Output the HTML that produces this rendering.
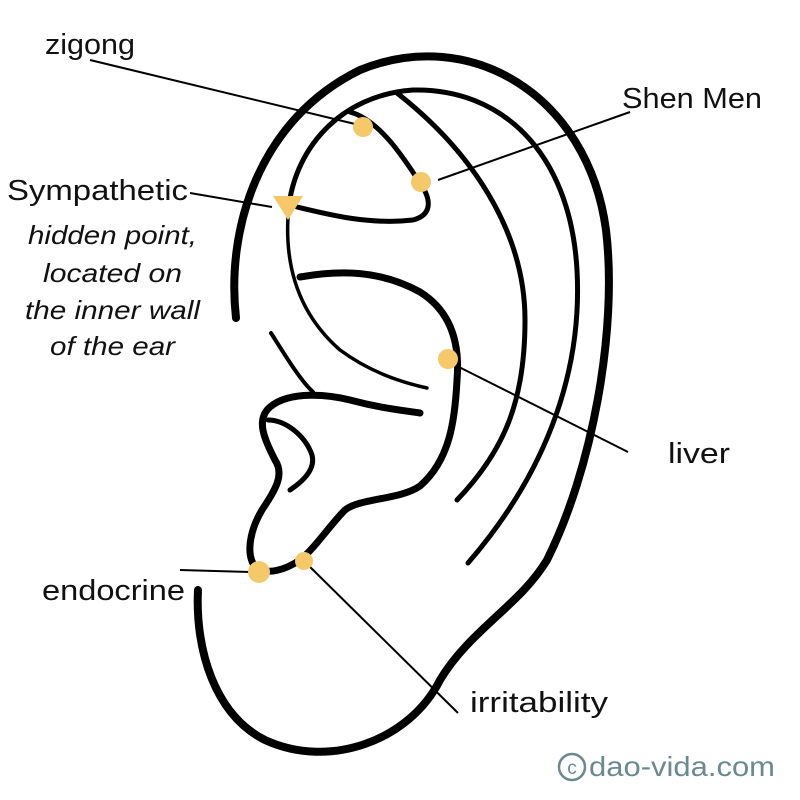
<!DOCTYPE html>
<html><head><meta charset="utf-8"><style>
html,body{margin:0;padding:0;background:#fff}
svg{display:block}
text{font-family:"Liberation Sans",sans-serif;fill:#111}
</style></head><body>
<svg width="800" height="800" viewBox="0 0 800 800" xmlns="http://www.w3.org/2000/svg">
<g fill="none" stroke="#000" stroke-linecap="round" stroke-linejoin="round">
<path d="M236,318 C226,230 258,120 360,70 C470,25 588,95 606,230 C618,330 592,470 547,560 C520,605 470,630 440,680 C410,740 330,770 265,740 C215,715 195,650 198,590" stroke-width="8"/>
<path d="M288,215 C292,150 340,95 413,90 C500,88 570,150 577,270 C583,380 540,480 468,563" stroke-width="5"/>
<path d="M397,93 C470,150 525,230 525,320 C525,400 505,450 457,500" stroke-width="5"/>
<path d="M350,112 C380,120 405,160 420,183 C432,200 432,215 413,220 C370,225 330,215 297,207" stroke-width="5"/>
<path d="M288,217 C285,270 300,315 340,350 C370,372 400,382 427,388" stroke-width="3.5"/>
<path d="M300,277 C340,270 380,270 420,292 C452,312 460,345 457,380 C455,420 450,460 420,486 C400,500 360,498 345,510 C330,525 315,548 300,560 C285,570 268,575 256,568 C245,555 250,530 262,510 C275,490 285,475 275,460 C265,440 255,420 270,407 C290,390 330,395 350,400 C380,408 400,410 420,413" stroke-width="7"/>
<path d="M268,420 C285,420 305,435 312,455 C316,470 302,482 290,490" stroke-width="5"/>
<path d="M271,333 C285,355 300,380 313,392" stroke-width="4"/>
</g>
<g stroke="#000" stroke-width="2" fill="none">
<line x1="90" y1="60" x2="355" y2="124"/>
<line x1="630" y1="112" x2="438" y2="180"/>
<line x1="190" y1="193" x2="272" y2="207"/>
<line x1="455" y1="365" x2="628" y2="452"/>
<line x1="180" y1="570" x2="250" y2="572"/>
<line x1="303" y1="560" x2="458" y2="713"/>
</g>
<g fill="#f5c96a">
<circle cx="363" cy="127" r="10"/>
<circle cx="421" cy="182" r="10"/>
<circle cx="448" cy="359" r="10"/>
<circle cx="259" cy="572" r="11"/>
<circle cx="304" cy="561" r="9"/>
<polygon points="273,196 303,196 288,220"/>
</g>
<g font-size="29" lengthAdjust="spacingAndGlyphs">
<text x="45" y="54" textLength="90" lengthAdjust="spacingAndGlyphs">zigong</text>
<text x="622" y="108" textLength="140" lengthAdjust="spacingAndGlyphs">Shen Men</text>
<text x="7" y="200" textLength="181" lengthAdjust="spacingAndGlyphs">Sympathetic</text>
<text x="668" y="463" textLength="62" lengthAdjust="spacingAndGlyphs">liver</text>
<text x="42" y="600" textLength="143" lengthAdjust="spacingAndGlyphs">endocrine</text>
<text x="470" y="712" textLength="138" lengthAdjust="spacingAndGlyphs">irritability</text>
</g>
<g font-style="italic" font-size="26">
<text x="28" y="244" textLength="169" lengthAdjust="spacingAndGlyphs">hidden point,</text>
<text x="43" y="282" textLength="139" lengthAdjust="spacingAndGlyphs">located on</text>
<text x="25" y="319" textLength="175" lengthAdjust="spacingAndGlyphs">the inner wall</text>
<text x="50" y="355" textLength="125" lengthAdjust="spacingAndGlyphs">of the ear</text>
</g>
<circle cx="572" cy="767" r="13" fill="none" stroke="#6a8a90" stroke-width="2.5"/>
<text x="572" y="774" font-size="19" text-anchor="middle" style="fill:#6a8a90">c</text>
<text x="589" y="776" font-size="28" textLength="186" lengthAdjust="spacingAndGlyphs" style="fill:#6a8a90">dao-vida.com</text>
</svg>
</body></html>
